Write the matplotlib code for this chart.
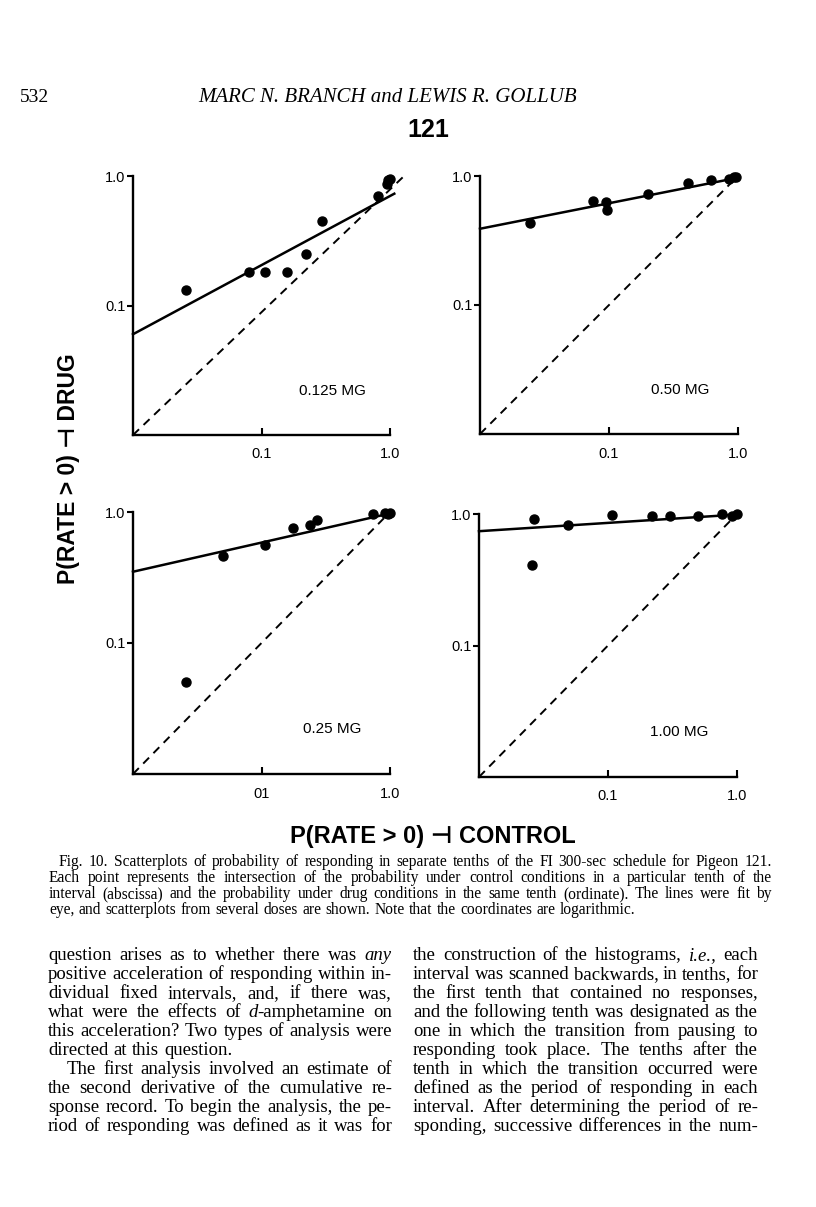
import matplotlib
matplotlib.use('Agg')
import matplotlib.pyplot as plt
from matplotlib.ticker import FixedLocator, FixedFormatter, NullLocator

plt.rcParams['lines.scale_dashes'] = False

W, H = 816, 1207

# dose labels for the four panels (top-left, top-right, bottom-left, bottom-right)
doses = ['0.125 MG', '0.50 MG', '0.25 MG', '1.00 MG']

# P(rate > 0) under control (x) and under drug (y), one pair per tenth
ctrl_0125 = [0.026, 0.080, 0.107, 0.158, 0.223, 0.297, 0.80, 0.94, 0.97, 1.00]
drug_0125 = [0.131, 0.180, 0.180, 0.182, 0.251, 0.451, 0.70, 0.867, 0.93, 0.94]

ctrl_050 = [0.0244, 0.0745, 0.0945, 0.096, 0.199, 0.412, 0.618, 0.852, 0.93, 0.97]
drug_050 = [0.430, 0.640, 0.632, 0.545, 0.721, 0.877, 0.931, 0.94, 0.975, 0.98]

ctrl_025 = [0.0257, 0.0502, 0.107, 0.177, 0.239, 0.272, 0.733, 0.92, 0.96, 1.00]
drug_025 = [0.0504, 0.464, 0.563, 0.755, 0.80, 0.869, 0.966, 0.98, 0.97, 0.98]

ctrl_100 = [0.0266, 0.0258, 0.0487, 0.108, 0.221, 0.301, 0.50, 0.764, 0.915, 0.995]
drug_100 = [0.921, 0.411, 0.820, 0.99, 0.96, 0.96, 0.96, 1.00, 0.96, 1.00]

# lines fit by eye: (x start, y start, x end, y end)
fit_0125 = [0.01, 0.060, 1.08, 0.73]
fit_050 = [0.01, 0.39, 1.0, 0.97]
fit_025 = [0.01, 0.35, 1.0, 0.975]
fit_100 = [0.01, 0.74, 1.0, 0.99]

# equality (dashed) lines
diag_0125 = [0.01, 0.01, 1.26, 0.98]
diag_other = [0.01, 0.01, 1.0, 1.0]

tick_vals = [0.1, 1.0]
tick_text = ['0.1', '1.0']
xtick_text = [['0.1', '1.0'], ['0.1', '1.0'], ['01', '1.0'], ['0.1', '1.0']]

header_left = '532'
header_mid = 'MARC N. BRANCH and LEWIS R. GOLLUB'
pigeon = '121'
ylabel = 'P(RATE > 0) \u22a3 DRUG'
xlabel = 'P(RATE > 0) \u22a3 CONTROL'

caption = [
    'Fig. 10. Scatterplots of probability of responding in separate tenths of the FI 300-sec schedule for Pigeon 121.',
    'Each point represents the intersection of the probability under control conditions in a particular tenth of the',
    'interval (abscissa) and the probability under drug conditions in the same tenth (ordinate). The lines were fit by',
    'eye, and scatterplots from several doses are shown. Note that the coordinates are logarithmic.',
]

# *...* marks italic
left_col = [
    'question arises as to whether there was *any*',
    'positive acceleration of responding within in-',
    'dividual fixed intervals, and, if there was,',
    'what were the effects of *d*-amphetamine on',
    'this acceleration? Two types of analysis were',
    'directed at this question.',
    'The first analysis involved an estimate of',
    'the second derivative of the cumulative re-',
    'sponse record. To begin the analysis, the pe-',
    'riod of responding was defined as it was for',
]
right_col = [
    'the construction of the histograms, *i.e.,* each',
    'interval was scanned backwards, in tenths, for',
    'the first tenth that contained no responses,',
    'and the following tenth was designated as the',
    'one in which the transition from pausing to',
    'responding took place. The tenths after the',
    'tenth in which the transition occurred were',
    'defined as the period of responding in each',
    'interval. After determining the period of re-',
    'sponding, successive differences in the num-',
]

fig = plt.figure(figsize=(W / 100, H / 100), dpi=100)
fig.patch.set_facecolor('white')

# axes boxes in page pixels: left, top, right, bottom
boxes = [(133, 176, 390, 435), (480, 176, 738, 434),
         (133, 512, 390, 774), (479, 514, 737, 777)]
panels = [
    (ctrl_0125, drug_0125, fit_0125, diag_0125),
    (ctrl_050, drug_050, fit_050, diag_other),
    (ctrl_025, drug_025, fit_025, diag_other),
    (ctrl_100, drug_100, fit_100, diag_other),
]

for i, (box, (cx, dy, fit, diag)) in enumerate(zip(boxes, panels)):
    l, t, r, b = box
    ax = fig.add_axes([l / W, 1 - b / H, (r - l) / W, (b - t) / H])
    ax.set_xscale('log')
    ax.set_yscale('log')
    ax.set_xlim(0.01, 1.0)
    ax.set_ylim(0.01, 1.0)
    ax.plot(diag[0::2], diag[1::2], color='black', lw=1.4, dashes=(6, 4.5), clip_on=False)
    ax.plot(fit[0::2], fit[1::2], color='black', lw=1.8, clip_on=False)
    ax.plot(cx, dy, 'o', color='black', ms=6.5, clip_on=False, zorder=3)
    for s in ['top', 'right']:
        ax.spines[s].set_visible(False)
    for s in ['left', 'bottom']:
        ax.spines[s].set_linewidth(1.7)
    ax.xaxis.set_major_locator(FixedLocator(tick_vals))
    ax.xaxis.set_major_formatter(FixedFormatter(xtick_text[i]))
    ax.yaxis.set_major_locator(FixedLocator(tick_vals))
    ax.yaxis.set_major_formatter(FixedFormatter(tick_text))
    ax.xaxis.set_minor_locator(NullLocator())
    ax.yaxis.set_minor_locator(NullLocator())
    ax.tick_params(axis='x', direction='in', length=5, width=1.5, pad=9)
    ax.tick_params(axis='y', direction='out', length=4.5, width=1.5, pad=1)
    for lab in ax.get_xticklabels() + ax.get_yticklabels():
        lab.set_fontfamily('Liberation Sans')
        lab.set_fontsize(10.5)
    ax.text(0.775, 0.17, doses[i], transform=ax.transAxes, ha='center', va='center',
            fontsize=11, family='Liberation Sans')

# page header and labels
fig.text(20 / W, 1 - 102 / H, header_left, fontsize=14, family='Liberation Serif', ha='left', va='baseline')
fig.text(388 / W, 1 - 102 / H, header_mid, fontsize=15, family='Liberation Serif', style='italic',
         ha='center', va='baseline')
fig.text(428 / W, 1 - 130 / H, pigeon, fontsize=18, family='Liberation Sans', weight='bold',
         ha='center', va='center')
fig.text(69 / W, 1 - 469 / H, ylabel, fontsize=16.5, family=['Liberation Sans', 'DejaVu Sans'], weight='bold',
         rotation=90, ha='center', va='center')
fig.text(433 / W, 1 - 836 / H, xlabel, fontsize=17, family=['Liberation Sans', 'DejaVu Sans'], weight='bold',
         ha='center', va='center')

renderer = fig.canvas.get_renderer()


def make_word(word, size):
    # split a word into roman / italic pieces on '*'
    pieces = []
    for j, part in enumerate(word.split('*')):
        if part == '':
            continue
        t = fig.text(0, 0, part, fontsize=size, family='Liberation Serif',
                     style='italic' if j % 2 else 'normal', ha='left', va='baseline')
        pieces.append((t, t.get_window_extent(renderer).width))
    return pieces


def put_line(line, x0, x1, y, size, justify=True):
    words = [make_word(w, size) for w in line.split(' ')]
    ws = [sum(p[1] for p in w) for w in words]
    if justify and len(words) > 1:
        gap = (x1 - x0 - sum(ws)) / (len(words) - 1)
    else:
        gap = size * 100 / 72 * 0.28
    x = x0
    for w, wd in zip(words, ws):
        xx = x
        for t, pw in w:
            t.set_position((xx / W, 1 - y / H))
            xx += pw
        x += wd + gap


# caption
cap_y = [866, 882, 898, 914]
for k, (line, y) in enumerate(zip(caption, cap_y)):
    x0 = 59 if k == 0 else 49
    put_line(line, x0, 772, y, 11.2, justify=(k < len(caption) - 1))

# two text columns
body_y = [960 + 19 * k for k in range(10)]
for k, (line, y) in enumerate(zip(left_col, body_y)):
    x0 = 67 if k == 6 else 48
    put_line(line, x0, 392, y, 13.5, justify=(k != 5))
for k, (line, y) in enumerate(zip(right_col, body_y)):
    put_line(line, 413, 758, y, 13.5, justify=True)

fig.savefig('out.png', dpi=100, facecolor='white')
